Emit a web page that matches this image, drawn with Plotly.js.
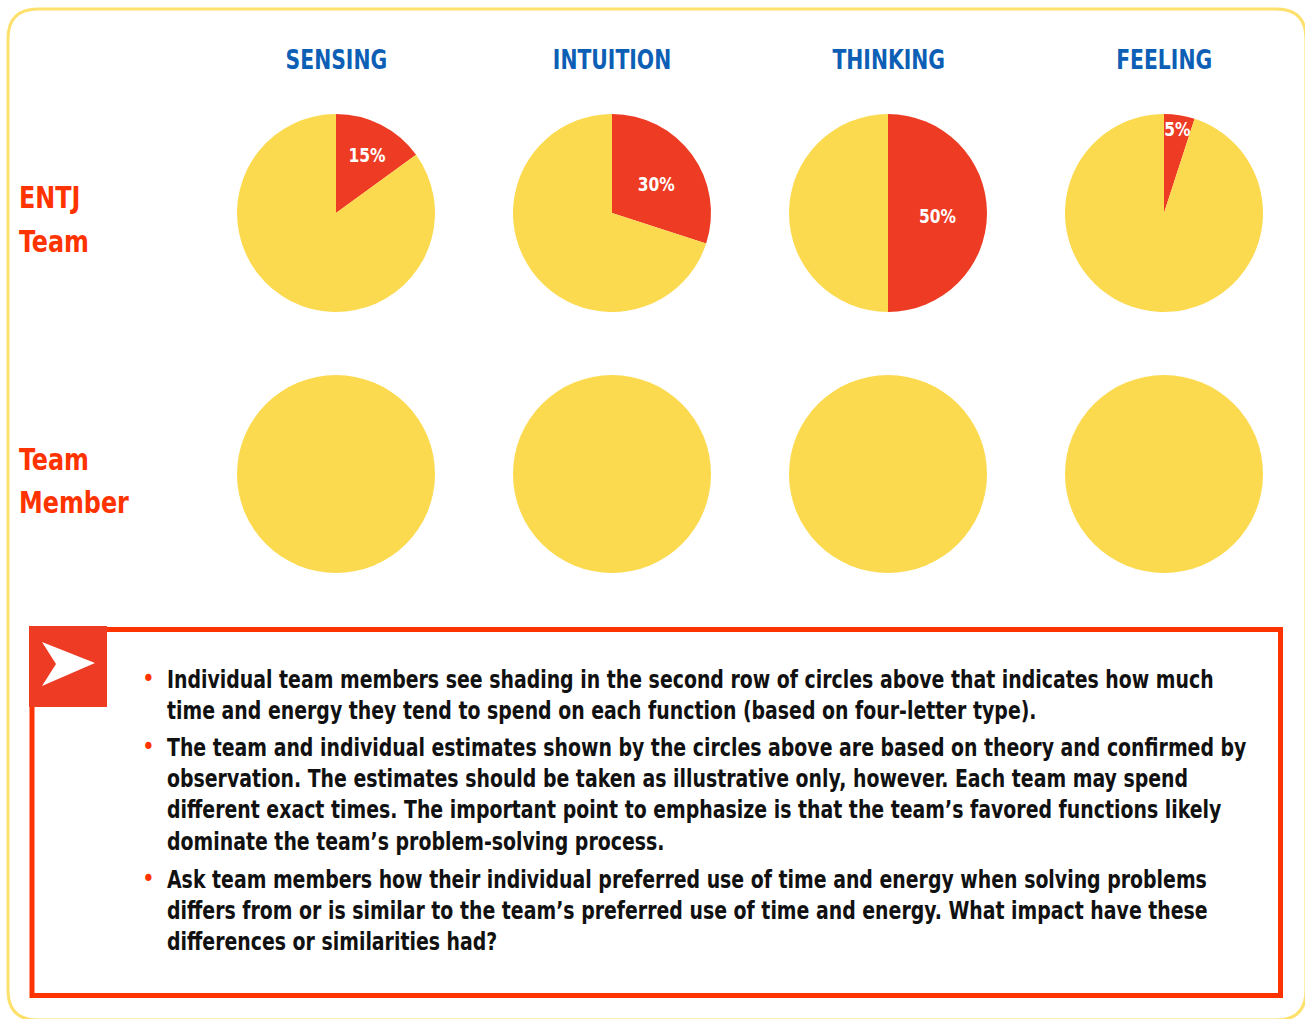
<!DOCTYPE html>
<html>
<head>
<meta charset="utf-8">
<script src="https://cdn.plot.ly/plotly-3.0.1.min.js"></script>
<style>
  html, body { margin: 0; padding: 0; background: #ffffff; }
  #chart { width: 1305px; height: 1019px; }
</style>
</head>
<body>
<div id="chart"></div>
<script>
// ---- data ----
const functionNames = ['SENSING', 'INTUITION', 'THINKING', 'FEELING'];
const rowLabels = [['ENTJ', 'Team'], ['Team', 'Member']];
const entjTeamShare = [15, 30, 50, 5];      // % of time/energy spent on each function
const teamMemberShare = [0, 0, 0, 0];       // unshaded circles for individual members
const bulletTexts = [
  'Individual team members see shading in the second row of circles above that indicates how much<br>time and energy they tend to spend on each function (based on four-letter type).',
  'The team and individual estimates shown by the circles above are based on theory and confirmed by<br>observation. The estimates should be taken as illustrative only, however. Each team may spend<br>different exact times. The important point to emphasize is that the team\u2019s favored functions likely<br>dominate the team\u2019s problem-solving process.',
  'Ask team members how their individual preferred use of time and energy when solving problems<br>differs from or is similar to the team\u2019s preferred use of time and energy. What impact have these<br>differences or similarities had?'
];

// ---- styling ----
const W = 1305, H = 1019;
const FONT = '"Liberation Sans Narrow", "DejaVu Sans Condensed", "DejaVu Sans", sans-serif';
const YELLOW = '#fcda4f';
const RED = '#ee3b24';
const ORANGE_RED = '#ff3300';
const BLUE = '#0d5fb6';

const colCenters = [336, 612, 888, 1164];
const rowCenters = [213, 474];
const R = 99;

const rows = [entjTeamShare, teamMemberShare];
const traces = [];
rows.forEach((shares, ri) => {
  shares.forEach((s, ci) => {
    const cx = colCenters[ci], cy = rowCenters[ri];
    traces.push({
      type: 'pie',
      values: [s, 100 - s],
      labels: ['Function', 'Other'],
      text: [s > 0 ? s + '%' : '', ''],
      texttemplate: '%{text}',
      textposition: 'inside',
      insidetextorientation: 'horizontal',
      textfont: { family: FONT, size: 20, color: '#ffffff', weight: 'bold' },
      marker: { colors: [RED, YELLOW], line: { width: 0 } },
      sort: false,
      direction: 'clockwise',
      rotation: 0,
      showlegend: false,
      hoverinfo: 'skip',
      domain: {
        x: [(cx - R) / W, (cx + R) / W],
        y: [1 - (cy + R) / H, 1 - (cy - R) / H]
      }
    });
  });
});

const annotations = [];
const annScale = [];   // [scale, origin] per annotation
functionNames.forEach((name, i) => {
  annotations.push({
    xref: 'x', yref: 'y', x: colCenters[i], y: 60,
    text: '<b>' + name + '</b>', showarrow: false,
    xanchor: 'center', yanchor: 'middle',
    font: { family: FONT, size: 26, color: BLUE }
  });
  annScale.push([0.87, 'center']);
});
const labelLineY = [[197, 241], [459, 502]];
rowLabels.forEach((lines, i) => {
  lines.forEach((line, j) => {
    annotations.push({
      xref: 'x', yref: 'y', x: 17, y: labelLineY[i][j],
      text: '<b>' + line + '</b>', showarrow: false,
      xanchor: 'left', yanchor: 'middle', align: 'left',
      font: { family: FONT, size: 30, color: ORANGE_RED }
    });
    annScale.push([0.885, 'left']);
  });
});
const paraTops = [664, 732, 864];
bulletTexts.forEach((t, i) => {
  annotations.push({
    xref: 'x', yref: 'y', x: 165, y: paraTops[i],
    text: '<b>' + t + '</b>', showarrow: false,
    xanchor: 'left', yanchor: 'top', align: 'left',
    font: { family: FONT, size: 24, color: '#111111' }
  });
  annScale.push([0.876, 'left']);
  annotations.push({
    xref: 'x', yref: 'y', x: 148, y: paraTops[i] + 15,
    text: '\u2022', showarrow: false,
    xanchor: 'center', yanchor: 'middle',
    font: { family: FONT, size: 24, color: ORANGE_RED }
  });
  annScale.push([1, 'center']);
});

const shapes = [
  { type: 'path', xref: 'x', yref: 'y',
    path: 'M 38 9 L 1276 9 Q 1306 9 1306 39 L 1306 990 Q 1306 1020 1276 1020 L 38 1020 Q 8 1020 8 990 L 8 39 Q 8 9 38 9 Z',
    line: { color: '#fde16c', width: 3 }, fillcolor: 'rgba(0,0,0,0)', layer: 'below' },
  { type: 'rect', xref: 'x', yref: 'y', x0: 32, y0: 629.5, x1: 1280.5, y1: 995.5,
    line: { color: ORANGE_RED, width: 5 }, fillcolor: 'rgba(0,0,0,0)' },
  { type: 'rect', xref: 'x', yref: 'y', x0: 29, y0: 626, x1: 107, y1: 707,
    line: { width: 0 }, fillcolor: RED },
  { type: 'path', xref: 'x', yref: 'y',
    path: 'M 42 642 L 95 663 L 42 686 L 56 664 Z',
    line: { width: 0 }, fillcolor: '#ffffff' }
];

const layout = {
  width: W, height: H,
  margin: { l: 0, r: 0, t: 0, b: 0 },
  paper_bgcolor: '#ffffff', plot_bgcolor: 'rgba(0,0,0,0)',
  showlegend: false,
  xaxis: { range: [0, W], visible: false, fixedrange: true },
  yaxis: { range: [H, 0], visible: false, fixedrange: true },
  annotations: annotations,
  shapes: shapes
};

function squeeze(el, s, origin, dy) {
  const bb = el.getBBox();
  const ox = origin === 'left' ? bb.x : bb.x + bb.width / 2;
  const oy = bb.y + bb.height / 2;
  let tr = el.getAttribute('transform') || '';
  tr = tr.replace(/scale\([^)]*\)/g, '');
  el.setAttribute('transform', tr + ' translate(' + ox + ',' + (oy + (dy || 0)) + ') scale(' + s + ',1) translate(' + (-ox) + ',' + (-oy) + ')');
}

Plotly.newPlot('chart', traces, layout, { displayModeBar: false, staticPlot: true }).then(gd => {
  annScale.forEach((sc, i) => {
    if (sc[0] === 1) return;
    const t = gd.querySelector('g.annotation[data-index="' + i + '"] text');
    if (t) squeeze(t, sc[0], sc[1], 0);
  });
  gd.querySelectorAll('g.slicetext text').forEach(t => squeeze(t, 0.86, 'center', 3));
});
</script>
</body>
</html>
